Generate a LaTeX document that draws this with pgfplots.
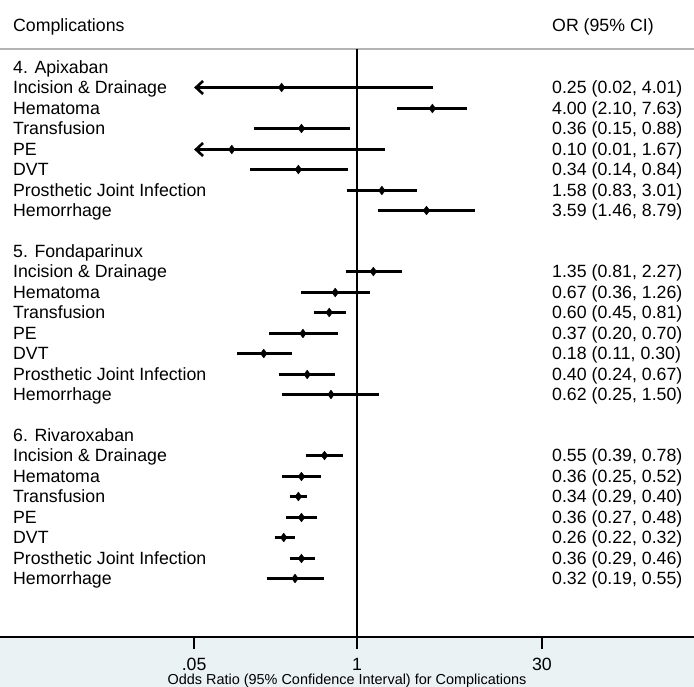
\documentclass[border=0pt]{standalone}
\usepackage{fontspec}
\setmainfont{Liberation Sans}
\usepackage{pgfplots}
\pgfplotsset{compat=1.18}
\usepackage{pgfplotstable}
\usetikzlibrary{arrows.meta}
\definecolor{bandbg}{RGB}{234,242,243}
\definecolor{sepgray}{RGB}{180,180,180}
\tikzset{lbl/.style={anchor=base west, inner sep=0pt, font=\fontsize{17.8}{18}\selectfont, yshift=-6.4bp}}

% point estimates: odds ratio and row position (from top)
\pgfplotstableread{
or y
0.25 87.5
4.00 108.5
0.36 128.5
0.10 149.5
0.34 169.5
1.58 190.5
3.59 210.5
1.35 271.5
0.67 292.5
0.60 312.5
0.37 333.5
0.18 353.5
0.40 374.5
0.62 394.5
0.55 455.5
0.36 476.5
0.34 496.5
0.36 517.5
0.26 537.5
0.36 558.5
0.32 578.5
}\est

% confidence interval segments (bounded ones)
\pgfplotstableread{
x y
2.10 108.5
7.63 108.5
nan nan
0.15 128.5
0.88 128.5
nan nan
0.14 169.5
0.84 169.5
nan nan
0.83 190.5
3.01 190.5
nan nan
1.46 210.5
8.79 210.5
nan nan
0.81 271.5
2.27 271.5
nan nan
0.36 292.5
1.26 292.5
nan nan
0.45 312.5
0.81 312.5
nan nan
0.20 333.5
0.70 333.5
nan nan
0.11 353.5
0.30 353.5
nan nan
0.24 374.5
0.67 374.5
nan nan
0.25 394.5
1.50 394.5
nan nan
0.39 455.5
0.78 455.5
nan nan
0.25 476.5
0.52 476.5
nan nan
0.29 496.5
0.40 496.5
nan nan
0.27 517.5
0.48 517.5
nan nan
0.22 537.5
0.32 537.5
nan nan
0.29 558.5
0.46 558.5
nan nan
0.19 578.5
0.55 578.5
}\ci

\begin{document}
\begin{tikzpicture}
\fill[bandbg] (0,-50bp) rectangle (694bp,0);
\begin{axis}[
  at={(0,0)}, anchor=south west,
  scale only axis, width=694bp, height=637bp,
  xmode=log, xmin=0.001408, xmax=491.6,
  ymin=0, ymax=637, y dir=reverse,
  enlargelimits=false,
  axis x line*=bottom, axis y line=none,
  ytick=\empty,
  axis line style={line width=1.5bp, black},
  xtick={0.05,1,30}, xticklabels={.05,1,30},
  xminorticks=false,
  tick align=outside, major tick length=12bp,
  tick style={line width=1.5bp, black},
  xticklabel style={font=\fontsize{17.8}{18}\selectfont, anchor=base, yshift=-21.5bp},
  xlabel={Odds Ratio (95\% Confidence Interval) for Complications},
  xlabel style={font=\fontsize{14.5}{15}\selectfont, at={(axis description cs:0.5,0)}, anchor=base, yshift=-47bp},
  clip=false,
  unbounded coords=jump,
  axis background/.style={fill=white},
]
% separator line
\addplot[sepgray, line width=2bp] coordinates {(0.001408,49) (491.6,49)};
% null line
\addplot[black, line width=2bp] coordinates {(1,49) (1,637)};
% CI lines
\addplot[black, line width=2.8bp] table[x=x, y=y] {\ci};
\addplot[black, line width=2.8bp, {Straight Barb[length=7bp, width=13bp, line width=2.6bp]}-] coordinates {(0.05,87.5) (4.01,87.5)};
\addplot[black, line width=2.8bp, {Straight Barb[length=7bp, width=13bp, line width=2.6bp]}-] coordinates {(0.05,149.5) (1.67,149.5)};
% point estimates
\addplot[only marks, mark=diamond*, mark size=4.4bp, mark options={fill=black, draw=black, line width=0.4bp}] table[x=or, y=y] {\est};

% headers
\node[lbl] at (axis cs:0.001787,25) {Complications};
\node[lbl] at (axis cs:36.1,25) {OR (95\% CI)};

% labels
\node[lbl] at (axis cs:0.001787,67.5) {4. Apixaban};
\node[lbl] at (axis cs:0.001787,87.5) {Incision \& Drainage};
\node[lbl] at (axis cs:0.001787,108.5) {Hematoma};
\node[lbl] at (axis cs:0.001787,128.5) {Transfusion};
\node[lbl] at (axis cs:0.001787,149.5) {PE};
\node[lbl] at (axis cs:0.001787,169.5) {DVT};
\node[lbl] at (axis cs:0.001787,190.5) {Prosthetic Joint Infection};
\node[lbl] at (axis cs:0.001787,210.5) {Hemorrhage};
\node[lbl] at (axis cs:0.001787,251.5) {5. Fondaparinux};
\node[lbl] at (axis cs:0.001787,271.5) {Incision \& Drainage};
\node[lbl] at (axis cs:0.001787,292.5) {Hematoma};
\node[lbl] at (axis cs:0.001787,312.5) {Transfusion};
\node[lbl] at (axis cs:0.001787,333.5) {PE};
\node[lbl] at (axis cs:0.001787,353.5) {DVT};
\node[lbl] at (axis cs:0.001787,374.5) {Prosthetic Joint Infection};
\node[lbl] at (axis cs:0.001787,394.5) {Hemorrhage};
\node[lbl] at (axis cs:0.001787,435.5) {6. Rivaroxaban};
\node[lbl] at (axis cs:0.001787,455.5) {Incision \& Drainage};
\node[lbl] at (axis cs:0.001787,476.5) {Hematoma};
\node[lbl] at (axis cs:0.001787,496.5) {Transfusion};
\node[lbl] at (axis cs:0.001787,517.5) {PE};
\node[lbl] at (axis cs:0.001787,537.5) {DVT};
\node[lbl] at (axis cs:0.001787,558.5) {Prosthetic Joint Infection};
\node[lbl] at (axis cs:0.001787,578.5) {Hemorrhage};

% values
\node[lbl] at (axis cs:36.1,87.5) {0.25 (0.02, 4.01)};
\node[lbl] at (axis cs:36.1,108.5) {4.00 (2.10, 7.63)};
\node[lbl] at (axis cs:36.1,128.5) {0.36 (0.15, 0.88)};
\node[lbl] at (axis cs:36.1,149.5) {0.10 (0.01, 1.67)};
\node[lbl] at (axis cs:36.1,169.5) {0.34 (0.14, 0.84)};
\node[lbl] at (axis cs:36.1,190.5) {1.58 (0.83, 3.01)};
\node[lbl] at (axis cs:36.1,210.5) {3.59 (1.46, 8.79)};
\node[lbl] at (axis cs:36.1,271.5) {1.35 (0.81, 2.27)};
\node[lbl] at (axis cs:36.1,292.5) {0.67 (0.36, 1.26)};
\node[lbl] at (axis cs:36.1,312.5) {0.60 (0.45, 0.81)};
\node[lbl] at (axis cs:36.1,333.5) {0.37 (0.20, 0.70)};
\node[lbl] at (axis cs:36.1,353.5) {0.18 (0.11, 0.30)};
\node[lbl] at (axis cs:36.1,374.5) {0.40 (0.24, 0.67)};
\node[lbl] at (axis cs:36.1,394.5) {0.62 (0.25, 1.50)};
\node[lbl] at (axis cs:36.1,455.5) {0.55 (0.39, 0.78)};
\node[lbl] at (axis cs:36.1,476.5) {0.36 (0.25, 0.52)};
\node[lbl] at (axis cs:36.1,496.5) {0.34 (0.29, 0.40)};
\node[lbl] at (axis cs:36.1,517.5) {0.36 (0.27, 0.48)};
\node[lbl] at (axis cs:36.1,537.5) {0.26 (0.22, 0.32)};
\node[lbl] at (axis cs:36.1,558.5) {0.36 (0.29, 0.46)};
\node[lbl] at (axis cs:36.1,578.5) {0.32 (0.19, 0.55)};
\end{axis}
\pgfresetboundingbox
\useasboundingbox (0,-50bp) rectangle (694bp,637bp);
\end{tikzpicture}
\end{document}
